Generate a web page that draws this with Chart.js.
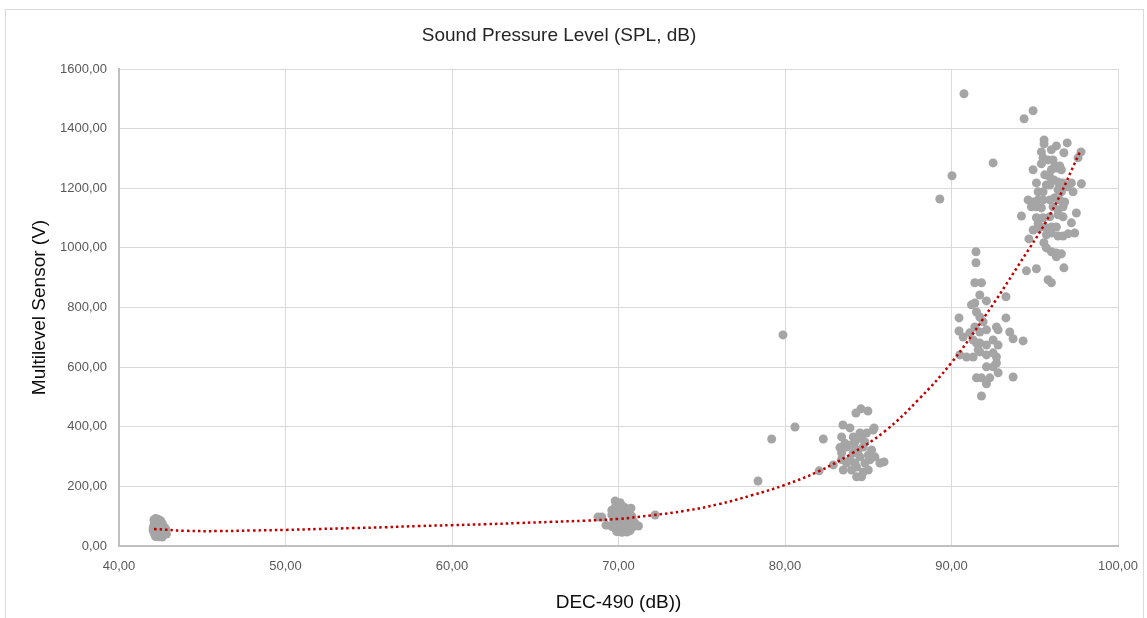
<!DOCTYPE html>
<html>
<head>
<meta charset="utf-8">
<script src="https://cdn.jsdelivr.net/npm/chart.js@4.4.1/dist/chart.umd.min.js"></script>
<style>
  html, body { margin: 0; padding: 0; background: #fff; }
  #wrap { position: relative; width: 1147px; height: 618px; overflow: hidden; }
  #frame { position: absolute; left: 5px; top: 9px; width: 1137px; height: 640px; border: 1px solid #d9d9d9; pointer-events: none; }
  canvas { position: absolute; left: 0; top: 0; }
</style>
</head>
<body>
<div id="wrap">
  <canvas id="spl" width="1147" height="618"></canvas>
  <div id="frame"></div>
</div>
<script>
/* Scatter of sensor voltage vs. measured SPL, with a dotted trend line. */

// readings around 42 dB
const cluster42 = [
  [42.1, 88], [42.2, 92], [42.35, 90], [42.5, 85], [42.15, 80], [42.3, 78], [42.6, 75],
  [42.1, 70], [42.25, 68], [42.45, 66], [42.7, 62], [42.05, 60], [42.2, 58], [42.4, 55],
  [42.6, 52], [42.8, 50], [42.1, 48], [42.3, 45], [42.5, 44], [42.75, 42], [42.15, 38],
  [42.35, 36], [42.55, 35], [42.7, 38], [42.2, 32], [42.4, 31], [42.6, 30], [42.85, 40],
  [42.8, 58], [42.65, 68], [42.4, 80], [42.05, 52], [42.3, 62], [42.5, 58], [42.2, 42],
];

// readings around 70 dB
const cluster70 = [
  [68.77, 97], [69.0, 97], [69.25, 70], [69.8, 151], [72.2, 104], [69.6, 120], [69.8, 130],
  [70.0, 138], [70.2, 135], [70.4, 128], [70.6, 120], [69.6, 105], [69.9, 110], [70.2, 112],
  [70.5, 108], [70.8, 100], [69.7, 90], [70.0, 95], [70.3, 92], [70.6, 88], [70.9, 82],
  [69.7, 75], [70.0, 78], [70.3, 72], [70.6, 70], [70.9, 65], [69.8, 60], [70.1, 58],
  [70.4, 55], [70.7, 52], [69.9, 48], [70.2, 46], [70.5, 47], [70.75, 127], [71.2, 67],
  [71.0, 75], [69.6, 65], [70.1, 145],
];

// readings around 78-86 dB
const cluster84 = [
  [79.88, 708], [78.38, 218], [79.2, 359], [80.6, 399], [82.3, 359], [82.05, 252], [82.9, 272],
  [84.26, 446], [84.56, 460], [84.98, 453], [83.48, 406], [83.9, 396], [85.35, 396], [83.4, 366],
  [83.4, 312], [85.7, 278], [85.95, 282], [83.5, 255], [84.3, 232], [84.6, 232], [84.7, 248],
  [85.1, 289], [85.4, 299], [85.2, 322], [84.9, 379], [84.5, 379], [84.1, 366], [83.7, 332],
  [84.1, 312], [84.5, 299], [83.9, 289], [84.2, 278], [84.8, 278], [83.7, 278], [84.4, 322],
  [84.7, 332], [84.2, 349], [84.8, 349], [84.0, 255], [85.0, 255], [85.3, 389], [83.3, 330],
  [83.4, 290], [83.6, 345], [84.0, 340], [84.6, 360], [84.3, 265], [85.0, 305],
];

// readings around 90-94 dB
const cluster92 = [
  [91.47, 987], [91.47, 950], [91.4, 883], [91.8, 883], [91.7, 842], [92.1, 822], [91.2, 809],
  [91.4, 815], [93.27, 836], [90.45, 765], [90.45, 721], [93.27, 765], [93.5, 718], [93.7, 695],
  [94.3, 688], [91.5, 785], [91.7, 768], [91.9, 752], [91.4, 735], [91.7, 718], [92.1, 725],
  [92.7, 735], [92.8, 725], [90.7, 701], [91.1, 715], [91.3, 691], [91.7, 681], [92.1, 674],
  [92.5, 691], [92.8, 674], [90.5, 641], [90.9, 634], [91.3, 634], [91.7, 651], [92.1, 641],
  [92.5, 648], [92.7, 634], [92.7, 614], [92.1, 601], [92.5, 601], [92.8, 581], [91.5, 564],
  [91.8, 564], [92.3, 564], [93.7, 567], [92.1, 544], [91.8, 503], [91.5, 681], [91.6, 658],
  [90.75, 1517], [90.03, 1242], [89.3, 1164], [92.5, 1285],
];

// readings around 94-98 dB
const cluster96 = [
  [94.36, 1433], [94.9, 1460], [95.56, 1362], [95.56, 1349], [96.3, 1342], [96.95, 1352],
  [95.4, 1322], [96.0, 1329], [96.75, 1319], [97.78, 1322], [95.5, 1302], [95.8, 1295],
  [96.1, 1295], [97.6, 1302], [95.4, 1282], [96.2, 1275], [96.5, 1275], [94.9, 1262],
  [96.0, 1262], [96.3, 1268], [96.6, 1262], [95.6, 1245], [95.9, 1238], [96.15, 1228],
  [96.4, 1221], [95.1, 1218], [95.7, 1211], [95.9, 1211], [96.7, 1218], [96.95, 1205],
  [97.2, 1218], [97.8, 1215], [95.2, 1188], [95.5, 1188], [96.4, 1195], [96.6, 1188],
  [97.3, 1188], [94.6, 1161], [94.9, 1154], [95.2, 1161], [95.5, 1161], [95.9, 1161],
  [96.2, 1168], [96.5, 1161], [96.8, 1154], [94.8, 1138], [95.1, 1138], [95.4, 1134],
  [96.1, 1138], [96.4, 1128], [96.7, 1138], [97.5, 1117], [94.2, 1107], [95.1, 1101],
  [95.5, 1101], [95.9, 1104], [96.4, 1111], [96.7, 1104], [97.2, 1084], [95.2, 1081],
  [95.6, 1070], [94.9, 1060], [95.2, 1064], [96.0, 1070], [96.3, 1070], [94.65, 1030],
  [95.7, 1044], [96.0, 1050], [96.4, 1040], [96.7, 1040], [97.0, 1047], [97.4, 1050],
  [95.55, 1017], [95.7, 1000], [96.0, 987], [96.3, 983], [96.6, 980], [96.3, 970],
  [94.5, 923], [95.1, 930], [96.75, 933], [95.8, 893], [96.0, 883],
];

// trend line
const trendX = [42.1, 44, 46, 48, 50, 52, 54, 56, 58, 60, 62, 64, 66, 68, 70, 72, 74, 76, 78, 80, 82, 84, 86, 88, 90, 92, 94, 96, 97.7];
const trendY = [57, 51, 50, 52, 54, 57, 60, 63, 67, 70, 73, 77, 81, 85, 91, 103, 118, 140, 170, 205, 250, 310, 385, 490, 615, 770, 940, 1120, 1320];

const FONT = "'Liberation Sans', Arial, sans-serif";
const comma2 = (v) => Number(v).toFixed(2).replace(".", ",");
const toPts = (arr) => arr.map((p) => ({ x: p[0], y: p[1] }));

const allPoints = [].concat(toPts(cluster42), toPts(cluster70), toPts(cluster84), toPts(cluster92), toPts(cluster96));
const trendPoints = trendX.map((x, i) => ({ x, y: trendY[i] }));

const whiteBg = {
  id: "whiteBg",
  beforeDraw(chart) {
    const c = chart.ctx;
    c.save();
    c.fillStyle = "#ffffff";
    c.fillRect(0, 0, chart.width, chart.height);
    c.restore();
  },
};

new Chart(document.getElementById("spl"), {
  type: "scatter",
  data: {
    datasets: [
      { label: "trend", data: trendPoints, showLine: true, order: 0,
        borderColor: "#c00000", borderWidth: 2.5, borderDash: [2.5, 3], tension: 0.4,
        pointRadius: 0, fill: false },
      { label: "SPL", data: allPoints, order: 1,
        backgroundColor: "#a5a5a5", borderWidth: 0, pointRadius: 4.5 },
    ],
  },
  options: {
    responsive: false, animation: false,
    layout: { padding: { left: 0, right: 29, top: 0, bottom: 0 } },
    plugins: {
      legend: { display: false },
      tooltip: { enabled: false },
      title: {
        display: true, text: "Sound Pressure Level (SPL, dB)", color: "#262626",
        font: { family: FONT, size: 19, weight: "normal", lineHeight: 1.2 },
        padding: { top: 24.6, bottom: 21.6 },
      },
    },
    scales: {
      x: {
        type: "linear", min: 40, max: 100,
        ticks: { stepSize: 10, color: "#595959", padding: 13, font: { family: FONT, size: 13 }, callback: comma2 },
        grid: { color: "#d9d9d9", lineWidth: 1, drawTicks: false },
        border: { color: "#bfbfbf", width: 2 },
        title: { display: true, text: "DEC-490 (dB))", color: "#0d0d0d",
          font: { family: FONT, size: 19 }, padding: { top: 0, bottom: 3.6 } },
        afterFit: (s) => { s.height = 72; s.paddingLeft = 0; s.paddingRight = 0; },
      },
      y: {
        type: "linear", min: 0, max: 1600,
        ticks: { stepSize: 200, color: "#595959", padding: 12, font: { family: FONT, size: 13 }, callback: comma2 },
        grid: { color: "#d9d9d9", lineWidth: 1, drawTicks: false },
        border: { color: "#bfbfbf", width: 2 },
        title: { display: true, text: "Multilevel Sensor (V)", color: "#0d0d0d",
          font: { family: FONT, size: 19 }, padding: { top: 28.6, bottom: 0 } },
        afterFit: (s) => { s.width = 119; s.paddingTop = 0; s.paddingBottom = 0; },
      },
    },
  },
  plugins: [whiteBg],
});
</script>
</body>
</html>
